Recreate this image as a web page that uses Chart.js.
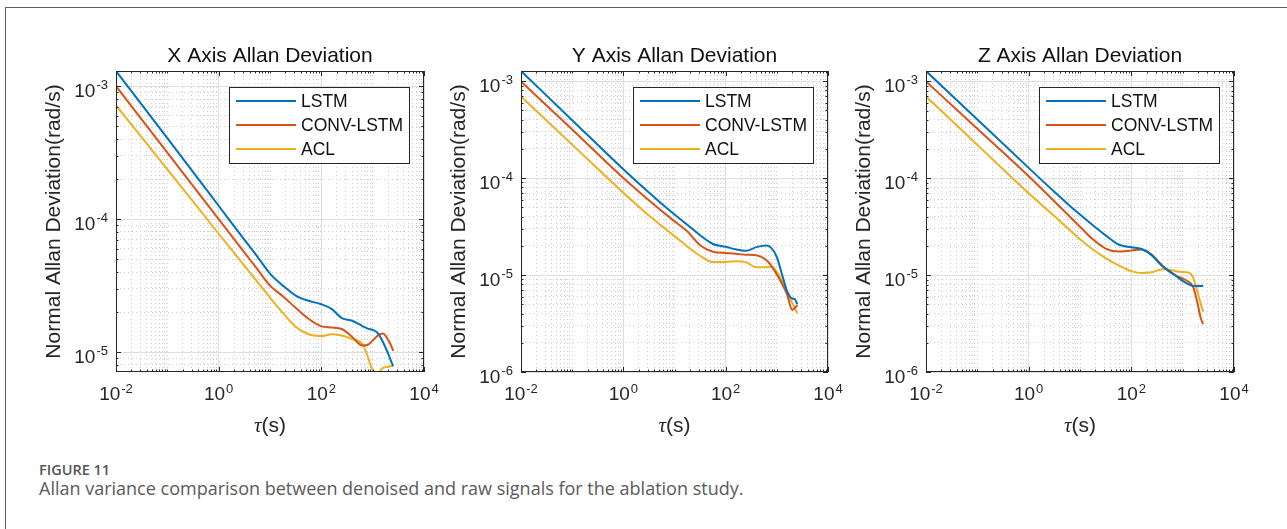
<!DOCTYPE html>
<html>
<head>
<meta charset="utf-8">
<script src="https://cdn.jsdelivr.net/npm/chart.js@4.4.0/dist/chart.umd.min.js"></script>
<style>
  html, body { margin: 0; padding: 0; background: #fff; }
  body { width: 1287px; height: 529px; position: relative; overflow: hidden; }
  #frame { position: absolute; left: 5px; top: 7px; width: 1400px; height: 600px;
           border-top: 1px solid #5e5e5e; border-left: 1px solid #5e5e5e; }
  canvas { position: absolute; top: 0; }
  #fig { position: absolute; left: 39px; top: 461px; font-family: "Open Sans", sans-serif;
         font-size: 14.5px; font-weight: 600; line-height: 18px; color: #555; }
  #cap { position: absolute; left: 39px; top: 477px; font-family: "Open Sans", sans-serif;
         font-size: 18px; line-height: 22px; color: #5a5a5a; white-space: nowrap; }
</style>
</head>
<body>
<div id="frame"></div>
<canvas id="cx" width="450" height="445" style="left:0px"></canvas>
<canvas id="cy" width="440" height="445" style="left:430px"></canvas>
<canvas id="cz" width="437" height="445" style="left:850px"></canvas>
<div id="fig">FIGURE 11</div>
<div id="cap">Allan variance comparison between denoised and raw signals for the ablation study.</div>

<script>
// averaging times (s)
var tau = [0.01, 0.1, 1, 3.16, 5.62, 10, 17.8, 31.6, 56.2, 100, 158, 251, 398, 631, 794, 1000, 1259, 1585, 1995, 2239, 2512];

// X axis
var xLstm = [1.30e-3, 4.07e-4, 1.26e-4, 7.00e-5, 5.25e-5, 3.89e-5, 3.16e-5, 2.66e-5, 2.43e-5, 2.29e-5, 2.11e-5, 1.80e-5, 1.72e-5, 1.57e-5, 1.50e-5, 1.47e-5, 1.39e-5, 1.19e-5, 9.77e-6, 8.71e-6, 7.85e-6];
var xConv = [1.00e-3, 3.16e-4, 1.00e-4, 5.62e-5, 4.22e-5, 3.16e-5, 2.63e-5, 2.15e-5, 1.78e-5, 1.56e-5, 1.53e-5, 1.49e-5, 1.30e-5, 1.12e-5, 1.13e-5, 1.22e-5, 1.33e-5, 1.38e-5, 1.24e-5, 1.14e-5, 1.02e-5];
var xAcl  = [7.16e-4, 2.37e-4, 7.76e-5, 4.47e-5, 3.39e-5, 2.57e-5, 1.97e-5, 1.55e-5, 1.36e-5, 1.32e-5, 1.36e-5, 1.33e-5, 1.25e-5, 1.15e-5, 9.33e-6, 7.33e-6, 7.00e-6, 7.59e-6, 7.76e-6, 7.85e-6, 7.89e-6];

// Y axis
var yLstm = [1.27e-3, 3.95e-4, 1.23e-4, 7.08e-5, 5.43e-5, 4.21e-5, 3.30e-5, 2.57e-5, 2.09e-5, 1.96e-5, 1.84e-5, 1.78e-5, 1.94e-5, 2.01e-5, 1.88e-5, 1.53e-5, 1.02e-5, 6.84e-6, 5.73e-6, 5.65e-6, 5.01e-6];
var yConv = [9.93e-4, 3.16e-4, 1.00e-4, 5.89e-5, 4.57e-5, 3.59e-5, 2.82e-5, 2.03e-5, 1.74e-5, 1.69e-5, 1.66e-5, 1.62e-5, 1.60e-5, 1.42e-5, 1.23e-5, 1.01e-5, 8.13e-6, 6.31e-6, 4.37e-6, 4.57e-6, 4.90e-6];
var yAcl  = [6.95e-4, 2.21e-4, 7.05e-5, 4.10e-5, 3.21e-5, 2.52e-5, 1.97e-5, 1.58e-5, 1.36e-5, 1.36e-5, 1.39e-5, 1.35e-5, 1.20e-5, 1.20e-5, 1.22e-5, 1.08e-5, 8.81e-6, 6.61e-6, 5.19e-6, 4.57e-6, 4.03e-6];

// Z axis
var zLstm = [1.28e-3, 4.04e-4, 1.28e-4, 7.24e-5, 5.50e-5, 4.22e-5, 3.27e-5, 2.57e-5, 2.07e-5, 1.94e-5, 1.86e-5, 1.60e-5, 1.24e-5, 1.04e-5, 9.55e-6, 8.71e-6, 8.13e-6, 7.73e-6, 7.71e-6, 7.71e-6, 7.71e-6];
var zConv = [1.00e-3, 3.24e-4, 1.05e-4, 5.79e-5, 4.27e-5, 3.16e-5, 2.34e-5, 1.88e-5, 1.75e-5, 1.80e-5, 1.84e-5, 1.62e-5, 1.26e-5, 1.05e-5, 9.72e-6, 9.23e-6, 8.65e-6, 7.67e-6, 4.84e-6, 3.63e-6, 3.13e-6];
var zAcl  = [7.00e-4, 2.21e-4, 7.00e-5, 4.07e-5, 3.09e-5, 2.34e-5, 1.84e-5, 1.50e-5, 1.26e-5, 1.10e-5, 1.05e-5, 1.07e-5, 1.15e-5, 1.12e-5, 1.09e-5, 1.08e-5, 1.07e-5, 9.55e-6, 6.38e-6, 5.13e-6, 4.19e-6];

var seriesNames = ['LSTM', 'CONV-LSTM', 'ACL'];
var titles = ['X Axis Allan Deviation', 'Y Axis Allan Deviation', 'Z Axis Allan Deviation'];

// axis limits and labelled decades
var xRange = [0.01, 10000];
var yRangeX = [7.08e-6, 1.30e-3];
var yRangeY = [1e-6, 1.27e-3];
var yRangeZ = [1e-6, 1.28e-3];
var xTickExp = [-2, 0, 2, 4];
var yTickExpX = [-5, -4, -3];
var yTickExpYZ = [-6, -5, -4, -3];

var colors = ['#0072BD', '#D95319', '#EDB120'];
var SANS = '"Liberation Sans", Arial, Helvetica, sans-serif';

function points(vals) {
    return tau.map(function (t, i) { return { x: t, y: vals[i] }; });
}

// MATLAB style log ticks: 1..9 per decade
function logTicks(axis) {
    var lo = Math.floor(Math.log10(axis.min) + 1e-9);
    var hi = Math.ceil(Math.log10(axis.max) - 1e-9);
    var out = [];
    for (var e = lo; e <= hi; e++) {
        for (var s = 1; s <= 9; s++) {
            var v = s * Math.pow(10, e);
            if (v >= axis.min * 0.9999 && v <= axis.max * 1.0001) out.push({ value: v });
        }
    }
    axis.ticks = out;
}

function isMajor(v, exps) {
    var l = Math.log10(v);
    return Math.abs(l - Math.round(l)) < 1e-6 && exps.indexOf(Math.round(l)) >= 0;
}

function drawPow(ctx, exp, x, y, align) {
    var base = '10', sup = String(exp);
    ctx.font = '19px ' + SANS;
    var wb = ctx.measureText(base).width;
    ctx.font = '13px ' + SANS;
    var ws = ctx.measureText(sup).width;
    var x0 = align === 'center' ? x - (wb + ws + 1) / 2 : x - (wb + ws + 1);
    ctx.textAlign = 'left';
    ctx.textBaseline = 'alphabetic';
    ctx.font = '19px ' + SANS;
    ctx.fillText(base, x0, y);
    ctx.font = '13px ' + SANS;
    ctx.fillText(sup, x0 + wb + 1, y - 7.5);
}

// box, inward ticks, tick labels, titles and legend drawn like MATLAB
var matlabAxes = {
    id: 'matlabAxes',
    afterDraw: function (chart, args, opts) {
        var ctx = chart.ctx, a = chart.chartArea;
        var xs = chart.scales.x, ys = chart.scales.y;
        ctx.save();

        ctx.strokeStyle = '#262626';
        ctx.lineWidth = 1;
        ctx.beginPath();
        xs.ticks.forEach(function (t) {
            var p = Math.round(xs.getPixelForValue(t.value)) + 0.5;
            var len = isMajor(t.value, opts.xExp) ? 5 : 2.5;
            ctx.moveTo(p, a.bottom); ctx.lineTo(p, a.bottom - len);
            ctx.moveTo(p, a.top); ctx.lineTo(p, a.top + len);
        });
        ys.ticks.forEach(function (t) {
            var p = Math.round(ys.getPixelForValue(t.value)) + 0.5;
            var len = isMajor(t.value, opts.yExp) ? 5 : 2.5;
            ctx.moveTo(a.left, p); ctx.lineTo(a.left + len, p);
            ctx.moveTo(a.right, p); ctx.lineTo(a.right - len, p);
        });
        ctx.stroke();
        ctx.strokeRect(Math.round(a.left) + 0.5, Math.round(a.top) + 0.5,
            Math.round(a.right - a.left) - 1, Math.round(a.bottom - a.top) - 1);

        ctx.fillStyle = '#262626';
        opts.xExp.forEach(function (e) {
            drawPow(ctx, e, xs.getPixelForValue(Math.pow(10, e)), a.bottom + 28, 'center');
        });
        opts.yExp.forEach(function (e) {
            drawPow(ctx, e, a.left - 8, ys.getPixelForValue(Math.pow(10, e)) + 10.5, 'right');
        });

        var cx = (a.left + a.right) / 2;
        ctx.fillStyle = '#111';
        ctx.font = '21px ' + SANS;
        ctx.textAlign = 'center';
        ctx.textBaseline = 'alphabetic';
        ctx.fillText(opts.title, cx, a.top - 9.5);

        // x label: tau(s)
        ctx.fillStyle = '#262626';
        ctx.font = 'italic 21px "Liberation Serif", "Times New Roman", serif';
        var wt = ctx.measureText('\u03C4').width;
        ctx.font = '21px ' + SANS;
        var wsx = ctx.measureText('(s)').width;
        var x0 = cx - (wt + wsx) / 2;
        ctx.textAlign = 'left';
        ctx.font = 'italic 21px "Liberation Serif", "Times New Roman", serif';
        ctx.fillText('\u03C4', x0, a.bottom + 60);
        ctx.font = '21px ' + SANS;
        ctx.fillText('(s)', x0 + wt, a.bottom + 60);

        // y label
        ctx.save();
        ctx.translate(a.left - 56, (a.top + a.bottom) / 2);
        ctx.rotate(-Math.PI / 2);
        ctx.textAlign = 'center';
        ctx.fillText('Normal Allan Deviation(rad/s)', 0, 0);
        ctx.restore();

        // legend box inside the axes, top right
        var bw = 180, bh = 76;
        var bx = Math.round(a.right) - 195, by = Math.round(a.top) + 16;
        ctx.fillStyle = '#fff';
        ctx.fillRect(bx, by, bw, bh);
        ctx.strokeStyle = '#262626';
        ctx.strokeRect(bx + 0.5, by + 0.5, bw, bh);
        ctx.font = '17.5px ' + SANS;
        ctx.textBaseline = 'middle';
        ctx.textAlign = 'left';
        chart.data.datasets.forEach(function (ds, i) {
            var yy = by + 14 + i * 24;
            ctx.strokeStyle = ds.borderColor;
            ctx.lineWidth = 2;
            ctx.beginPath();
            ctx.moveTo(bx + 7, yy); ctx.lineTo(bx + 67, yy);
            ctx.stroke();
            ctx.fillStyle = '#111';
            ctx.fillText(ds.label, bx + 72, yy + 1);
        });
        ctx.restore();
    }
};

function makeChart(id, title, series, yRange, yExp, pad) {
    var ctx = document.getElementById(id).getContext('2d');
    var datasets = series.map(function (vals, i) {
        return {
            label: seriesNames[i],
            data: points(vals),
            borderColor: colors[i],
            borderWidth: 2,
            pointRadius: 0,
            fill: false,
            cubicInterpolationMode: 'monotone'
        };
    });
    var majorGrid = function (exps) {
        return function (c) { return c.tick && isMajor(c.tick.value, exps) ? '#dedede' : 'rgba(0,0,0,0)'; };
    };
    var minorGrid = function (exps) {
        return function (c) { return c.tick && !isMajor(c.tick.value, exps) ? '#cdcdcd' : 'rgba(0,0,0,0)'; };
    };
    var logAxis = function (pos, range, color, dash) {
        return {
            type: 'logarithmic',
            position: pos,
            min: range[0],
            max: range[1],
            afterBuildTicks: logTicks,
            ticks: { display: false },
            grid: { color: color, lineWidth: 1, drawTicks: false },
            border: { display: false, dash: dash }
        };
    };
    return new Chart(ctx, {
        type: 'line',
        data: { datasets: datasets },
        options: {
            responsive: false,
            animation: false,
            layout: { padding: pad },
            plugins: {
                legend: { display: false },
                tooltip: { enabled: false },
                matlabAxes: { title: title, xExp: xTickExp, yExp: yExp }
            },
            scales: {
                x: logAxis('bottom', xRange, majorGrid(xTickExp), []),
                xm: logAxis('bottom', xRange, minorGrid(xTickExp), [1, 3]),
                y: logAxis('left', yRange, majorGrid(yExp), []),
                ym: logAxis('left', yRange, minorGrid(yExp), [1, 3])
            }
        },
        plugins: [matlabAxes]
    });
}

makeChart('cx', titles[0], [xLstm, xConv, xAcl], yRangeX, yTickExpX, { left: 116, right: 26, top: 71, bottom: 73 });
makeChart('cy', titles[1], [yLstm, yConv, yAcl], yRangeY, yTickExpYZ, { left: 91, right: 42, top: 71, bottom: 73 });
makeChart('cz', titles[2], [zLstm, zConv, zAcl], yRangeZ, yTickExpYZ, { left: 76, right: 53, top: 71, bottom: 73 });
</script>
</body>
</html>
